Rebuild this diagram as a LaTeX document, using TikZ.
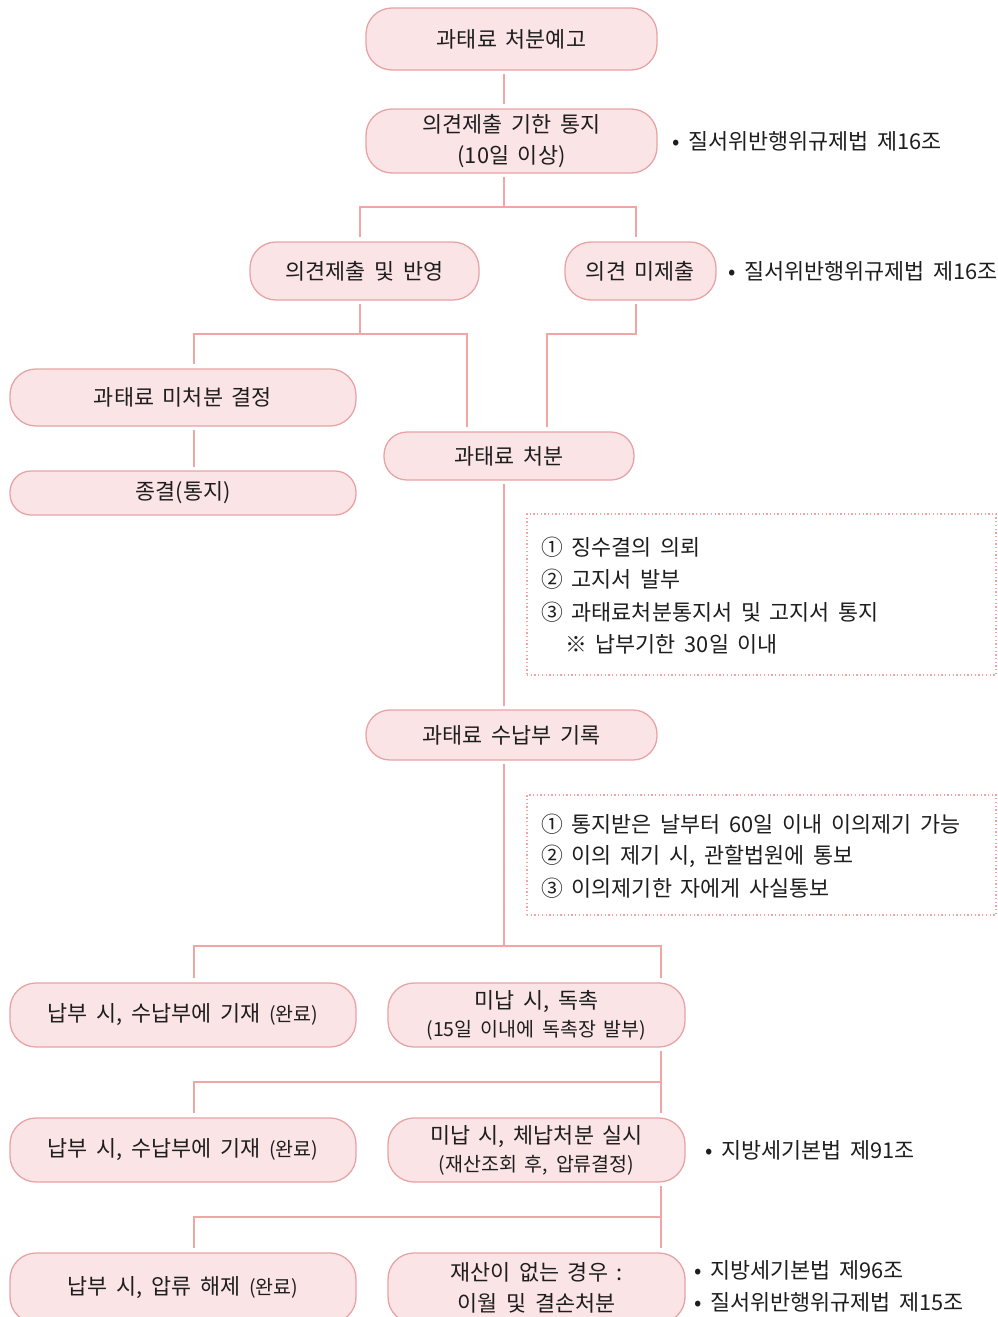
\documentclass[tikz,border=0pt]{standalone}
\usepackage{fontspec}
\setmainfont{Noto Sans CJK KR}[WordSpace=1.8]
\definecolor{bc}{HTML}{E9A3A5}
\definecolor{bf}{HTML}{FBE4E6}
\definecolor{lc}{HTML}{F2A5A5}
\definecolor{dc}{HTML}{F4A3A3}
\definecolor{tx}{HTML}{1E1E1E}
\newcommand{\mfs}{\fontsize{21.8}{30}\selectfont}
\newcommand{\sfs}{\fontsize{19.5}{30}\selectfont}
\tikzset{
  pill/.style={draw=bc, fill=bf, line width=1.3pt, rounded corners=#1, inner sep=0pt, align=center, font=\mfs, text=tx},
  pill/.default=26pt,
  conn/.style={draw=lc, line width=1.3pt},
  dotbox/.style={draw=dc, line width=1.3pt, dash pattern=on 1.3pt off 2.4pt, inner sep=0pt},
  lbl/.style={anchor=west, inner sep=0pt, font=\mfs, text=tx},
}
\begin{document}
\begin{tikzpicture}[x=1pt,y=-1pt]
\clip (0,0) rectangle (998,1317);
\fill[white] (0,0) rectangle (998,1317);
% boxes
\node[pill, minimum width=291pt, minimum height=62pt] (b1) at (511.5,39) {과태료 처분예고};
\node[pill, minimum width=291pt, minimum height=64pt] (b2) at (511.5,141) {의견제출 기한 통지\\[1pt](10일 이상)};
\node[pill, minimum width=229pt, minimum height=58pt] (b3) at (364.5,271) {의견제출 및 반영};
\node[pill, minimum width=151pt, minimum height=58pt] (b4) at (640.5,271) {의견 미제출};
\node[pill, minimum width=346pt, minimum height=57pt] (b5) at (183,397.5) {과태료 미처분 결정};
\node[pill=23pt, minimum width=250pt, minimum height=48pt] (b6) at (509,456) {과태료 처분};
\node[pill=21pt, minimum width=346pt, minimum height=44pt] (b7) at (183,493) {종결(통지)};
\node[pill=24pt, minimum width=291pt, minimum height=50pt] (b9) at (511.5,735) {과태료 수납부 기록};
\node[pill, minimum width=346pt, minimum height=64pt] (b11) at (183,1015) {납부 시, 수납부에 기재 {\sfs(완료)}};
\node[pill, minimum width=297pt, minimum height=64pt] (b12) at (536.5,1015) {미납 시, 독촉\\[-2pt]{\sfs(15일 이내에 독촉장 발부)}};
\node[pill, minimum width=346pt, minimum height=64pt] (b13) at (183,1150) {납부 시, 수납부에 기재 {\sfs(완료)}};
\node[pill, minimum width=297pt, minimum height=64pt] (b14) at (536.5,1150) {미납 시, 체납처분 실시\\[-2pt]{\sfs(재산조회 후, 압류결정)}};
\node[pill, minimum width=346pt, minimum height=70pt] (b15) at (183,1288) {납부 시, 압류 해제 {\sfs(완료)}};
\node[pill, minimum width=297pt, minimum height=70pt] (b16) at (536.5,1288) {재산이 없는 경우 :\\[1pt]이월 및 결손처분};
% notes
\node[lbl] (n1) at (672,141) {• 질서위반행위규제법 제16조};
\node[lbl] (n2) at (728,271) {• 질서위반행위규제법 제16조};
\node[lbl] (n3) at (705,1150) {• 지방세기본법 제91조};
\node[lbl] (n4) at (694,1270) {• 지방세기본법 제96조};
\node[lbl] (n5) at (694,1302) {• 질서위반행위규제법 제15조};
% dotted boxes
\node[dotbox, minimum width=469pt, minimum height=161pt] (d1) at (761.5,594.5) {};
\node[lbl] (d1a) at (541,547) {① 징수결의 의뢰};
\node[lbl] (d1b) at (541,579) {② 고지서 발부};
\node[lbl] (d1c) at (541,612) {③ 과태료처분통지서 및 고지서 통지};
\node[lbl] (d1d) at (565,644) {※ 납부기한 30일 이내};
\node[dotbox, minimum width=469pt, minimum height=120pt] (d2) at (761.5,855) {};
\node[lbl] (d2a) at (541,824) {① 통지받은 날부터 60일 이내 이의제기 가능};
\node[lbl] (d2b) at (541,856) {② 이의 제기 시, 관할법원에 통보};
\node[lbl] (d2c) at (541,888) {③ 이의제기한 자에게 사실통보};
% junctions
\coordinate (j1) at (504,207);
\coordinate (j1l) at (360,207);
\coordinate (j1r) at (636,207);
\coordinate (j2) at (360,334);
\coordinate (j2l) at (194,334);
\coordinate (j2r) at (467,334);
\coordinate (j3) at (636,334);
\coordinate (j3l) at (547,334);
\coordinate (j4) at (504,946);
\coordinate (j4l) at (194,946);
\coordinate (j4r) at (661,946);
\coordinate (j5) at (661,1082);
\coordinate (j5l) at (194,1082);
\coordinate (j6) at (661,1217);
\coordinate (j6l) at (194,1217);
% connectors
\draw[conn, shorten <=3pt, shorten >=4pt] (b1.south -| j1) -- (b2.north -| j1);
\draw[conn, shorten <=3pt] (b2.south -| j1) -- (j1);
\draw[conn, shorten <=4pt, shorten >=4pt] (b3.north -| j1l) -- (j1l) -- (j1r) -- (b4.north -| j1r);
\draw[conn, shorten <=3pt] (b3.south -| j2) -- (j2);
\draw[conn, shorten <=4pt, shorten >=4pt] (b5.north -| j2l) -- (j2l) -- (j2r) -- (b6.north -| j2r);
\draw[conn, shorten <=3pt, shorten >=4pt] (b4.south -| j3) -- (j3) -- (j3l) -- (b6.north -| j3l);
\draw[conn, shorten <=3pt, shorten >=3pt] (b5.south -| j2l) -- (b7.north -| j2l);
\draw[conn, shorten <=3pt, shorten >=3pt] (b6.south -| j1) -- (b9.north -| j1);
\draw[conn, shorten <=3pt] (b9.south -| j4) -- (j4);
\draw[conn, shorten <=4pt, shorten >=4pt] (b11.north -| j4l) -- (j4l) -- (j4r) -- (b12.north -| j4r);
\draw[conn, shorten <=3pt, shorten >=4pt] (b12.south -| j5) -- (j5) -- (b14.north -| j5);
\draw[conn, shorten >=4pt] (j5) -- (j5l) -- (b13.north -| j5l);
\draw[conn, shorten <=3pt, shorten >=4pt] (b14.south -| j6) -- (j6) -- (b16.north -| j6);
\draw[conn, shorten >=4pt] (j6) -- (j6l) -- (b15.north -| j6l);
\end{tikzpicture}
\end{document}
